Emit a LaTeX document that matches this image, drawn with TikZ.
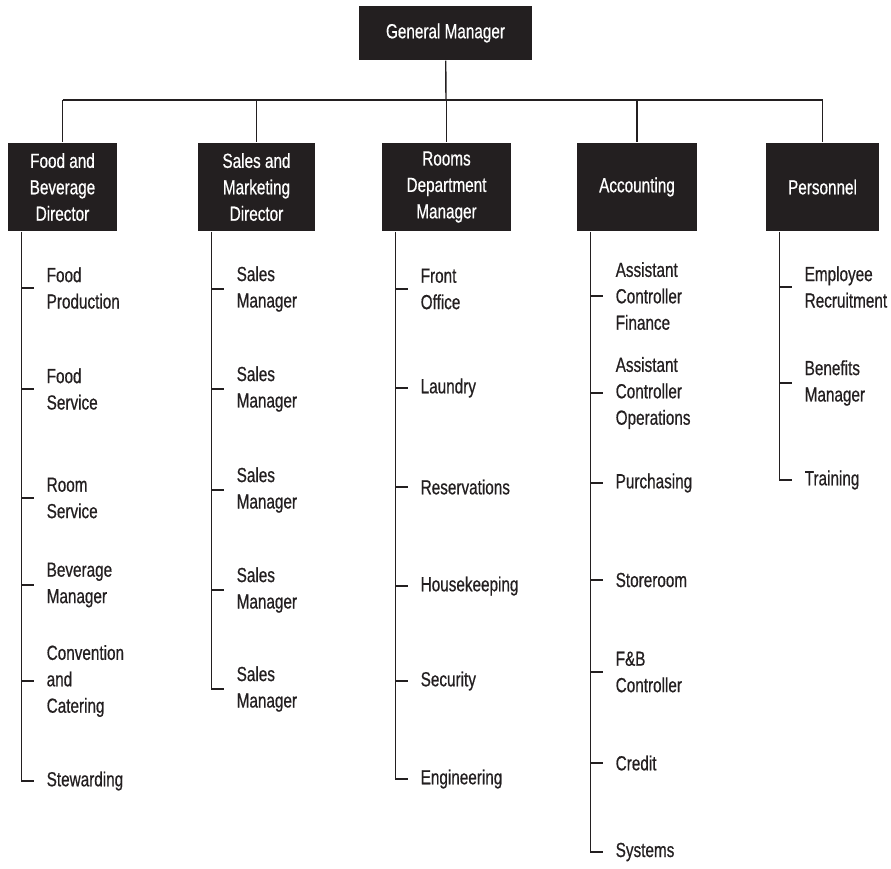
\documentclass[tikz,border=0pt]{standalone}
\usepackage{fontspec}
\setmainfont{Liberation Sans}[FakeStretch=0.75,FakeBold=0.6]
\definecolor{ink}{HTML}{231F20}

\begin{document}
\begin{tikzpicture}[
  x=0.025cm, y=-0.025cm,
  font=\fontsize{14.5}{18.8}\selectfont,
  line width=1pt, color=ink,
  head/.style={fill=ink,text=white,align=center,minimum height=2.2cm,inner sep=2pt},
  item/.style={anchor=west,align=left,inner sep=0pt,text=ink}
]
  \useasboundingbox (0,0) rectangle (891,868);

  \node[head,minimum width=4.325cm,minimum height=1.35cm] (gm) at (445.5,33) {General Manager};
  \coordinate (bar) at (446,100);

  \node[head,minimum width=2.725cm] (fb) at (62.5,187) {Food and\\Beverage\\Director};
  \node[head,minimum width=2.925cm] (sm) at (256.5,187) {Sales and\\Marketing\\Director};
  \node[head,minimum width=3.225cm] (rooms) at (446.5,187) {Rooms\\Department\\Manager};
  \node[head,minimum width=3cm] (acct) at (637,187) {Accounting};
  \node[head,minimum width=2.825cm] (pers) at (822.5,187) {Personnel};

  \draw (gm) -- (bar);
  \draw (fb.north |- bar) -- (pers.north |- bar);
  \foreach \d in {fb,sm,rooms,acct,pers}
    \draw (\d.north |- bar) -- (\d.north);

  \foreach \y/\t [count=\i] in {288/{Food\\Production},389/{Food\\Service},498/{Room\\Service},
      585/{Beverage\\Manager},681/{Convention\\and\\Catering},781/Stewarding}
    \node[item] (fb-\i) at (46,\y) {\t};
  \foreach \y [count=\i] in {289,389,490,590,689}
    \node[item] (sm-\i) at (236,\y) {Sales\\Manager};
  \foreach \y/\t [count=\i] in {289/{Front\\Office},388/Laundry,487/Reservations,
      586/Housekeeping,681/Security,779/Engineering}
    \node[item] (rooms-\i) at (420,\y) {\t};
  \foreach \y/\t [count=\i] in {296/{Assistant\\Controller\\Finance},393/{Assistant\\Controller\\Operations},
      483/Purchasing,580/Storeroom,672/{F\&B\\Controller},763/Credit,852/Systems}
    \node[item] (acct-\i) at (615,\y) {\t};
  \foreach \y/\t [count=\i] in {287/{Employee\\Recruitment},383/{Benefits\\Manager},480/Training}
    \node[item] (pers-\i) at (804,\y) {\t};

  \foreach \d/\n in {fb/6,sm/5,rooms/6,acct/7,pers/3}{
    \draw ([xshift=0.35cm]\d.south west) |- ([xshift=-0.3cm]\d-\n.west);
    \foreach \i in {1,...,\n}
      \draw (\d-\i.west) ++(-24,0) -- ++(12,0);
  }
\end{tikzpicture}
\end{document}
